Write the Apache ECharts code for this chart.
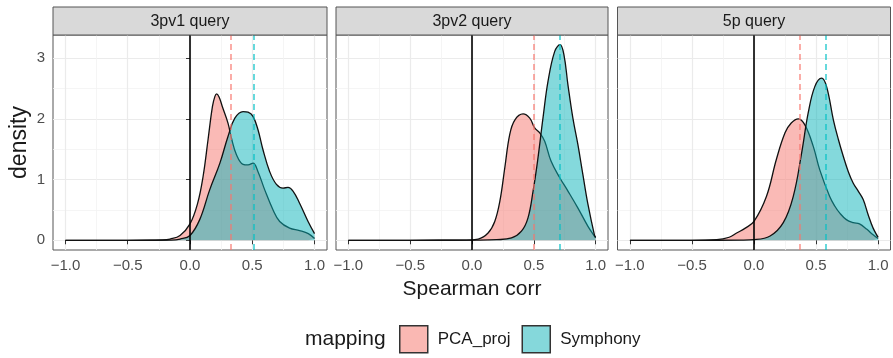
<!DOCTYPE html>
<html><head><meta charset="utf-8">
<script src="https://cdn.jsdelivr.net/npm/echarts@6/dist/echarts.min.js"></script>
<style>html,body{margin:0;padding:0;background:#fff}#c{width:893px;height:358px}</style>
</head><body><div id="c"></div>
<script>
const panels = ['3pv1 query', '3pv2 query', '5p query'];
const mappings = ['PCA_proj', 'Symphony'];
const xTicks = [-1, -0.5, 0, 0.5, 1];
const xTickLabels = ['−1.0', '−0.5', '0.0', '0.5', '1.0'];
const xMinor = [-0.75, -0.25, 0.25, 0.75];
const yTicks = [0, 1, 2, 3];
const yTickLabels = ['0', '1', '2', '3'];
const yMinor = [0.5, 1.5, 2.5];

// density curves [Spearman corr, density]
const pca_3pv1 = [[-1,0],[-0.5,0],[-0.22,0.005],[-0.16,0.02],[-0.08,0.08],[0,0.27],[0.06,0.6],[0.105,1.05],[0.145,1.66],[0.18,2.2],[0.2,2.37],[0.215,2.41],[0.235,2.35],[0.26,2.2],[0.305,1.93],[0.333,1.68],[0.373,1.41],[0.426,1.25],[0.466,1.24],[0.506,1.27],[0.546,1.13],[0.60,0.83],[0.667,0.50],[0.72,0.31],[0.80,0.20],[0.88,0.16],[0.95,0.11],[1.0,0.03]];
const sym_3pv1 = [[-1,0],[-0.5,0],[-0.15,0.003],[-0.08,0.02],[0,0.08],[0.078,0.34],[0.158,0.83],[0.24,1.27],[0.305,1.71],[0.36,2.01],[0.426,2.12],[0.466,2.11],[0.506,2.04],[0.546,1.82],[0.586,1.49],[0.64,1.13],[0.694,0.92],[0.747,0.86],[0.787,0.87],[0.827,0.81],[0.88,0.61],[0.948,0.31],[1.0,0.11]];
const pca_3pv2 = [[-1,0],[-0.5,0],[-0.05,0.002],[0.05,0.02],[0.13,0.12],[0.184,0.31],[0.225,0.64],[0.265,1.19],[0.305,1.74],[0.346,1.98],[0.413,2.08],[0.467,2.01],[0.507,1.85],[0.548,1.77],[0.588,1.63],[0.64,1.30],[0.71,1.03],[0.776,0.81],[0.857,0.53],[0.938,0.23],[0.99,0.07],[1.0,0.04]];
const sym_3pv2 = [[-1,0],[-0.5,0],[0.05,0.002],[0.2,0.01],[0.32,0.04],[0.40,0.15],[0.453,0.37],[0.494,0.81],[0.53,1.30],[0.574,2.01],[0.615,2.62],[0.669,3.11],[0.712,3.22],[0.744,3.05],[0.776,2.56],[0.816,2.01],[0.857,1.57],[0.897,1.08],[0.938,0.59],[0.99,0.09],[1.0,0.05]];
const pca_5p = [[-1,0],[-0.5,0],[-0.3,0.01],[-0.2,0.05],[-0.14,0.12],[-0.07,0.2],[0,0.31],[0.10,0.72],[0.18,1.33],[0.25,1.77],[0.30,1.93],[0.357,2.00],[0.41,1.90],[0.477,1.55],[0.53,1.16],[0.61,0.72],[0.652,0.56],[0.69,0.45],[0.744,0.34],[0.80,0.29],[0.85,0.27],[0.91,0.18],[0.96,0.09],[1.0,0.03]];
const sym_5p = [[-1,0],[-0.5,0],[-0.1,0.003],[0.0,0.01],[0.13,0.07],[0.236,0.29],[0.316,0.72],[0.384,1.44],[0.437,2.10],[0.49,2.53],[0.545,2.67],[0.585,2.53],[0.64,1.98],[0.68,1.66],[0.72,1.38],[0.76,1.13],[0.80,0.94],[0.84,0.81],[0.88,0.67],[0.92,0.42],[0.96,0.2],[1.0,0.05]];

const meanPCA = [0.333, 0.499, 0.373];
const meanSym = [0.514, 0.715, 0.58];

const pcaCurves = [pca_3pv1, pca_3pv2, pca_5p];
const symCurves = [sym_3pv1, sym_3pv2, sym_5p];

const FONT = '"Liberation Sans", Arial, Helvetica, sans-serif';
const COL = {PCA_proj: '#F8766D', Symphony: '#00BFC4'};
const FILL = {PCA_proj: 'rgba(246,118,109,0.5)', Symphony: 'rgba(10,180,186,0.5)'};
const KEY = {PCA_proj: '#FAB8B3', Symphony: '#85D8DB'};

const boxes = [{left: 53, width: 274}, {left: 336, width: 272}, {left: 617.5, width: 273}];
const TOP = 35, H = 215;

const grid = boxes.map(b => ({left: b.left, top: TOP, width: b.width, height: H, show: true,
  borderColor: '#555', borderWidth: 1, backgroundColor: '#fff'}));

const xAxis = [], yAxis = [], series = [], graphic = [];
boxes.forEach((b, g) => {
  xAxis.push({type: 'value', gridIndex: g, min: -1.1, max: 1.1,
    axisLine: {show: false},
    axisTick: {show: true, length: 4, lineStyle: {color: '#333'}, customValues: xTicks},
    axisLabel: {show: true, customValues: xTicks, formatter: v => { const i = xTicks.indexOf(v); return i >= 0 ? xTickLabels[i] : ''; },
      color: '#4d4d4d', fontSize: 15, margin: 8, fontFamily: FONT},
    splitLine: {show: true, lineStyle: {color: '#ebebeb', width: 1.2}}});
  xAxis.push({type: 'value', gridIndex: g, min: -1.1, max: 1.1,
    axisLine: {show: false}, axisTick: {show: false, customValues: xMinor},
    axisLabel: {show: false, customValues: xMinor},
    splitLine: {show: true, lineStyle: {color: '#f3f3f3', width: 0.8}}});
  yAxis.push({type: 'value', gridIndex: g, min: -0.16, max: 3.38,
    axisLine: {show: false},
    axisTick: {show: g === 0, length: 4, lineStyle: {color: '#333'}, customValues: yTicks},
    axisLabel: {show: g === 0, customValues: yTicks, formatter: v => { const i = yTicks.indexOf(v); return i >= 0 ? yTickLabels[i] : ''; },
      color: '#4d4d4d', fontSize: 15, margin: 8, fontFamily: FONT},
    splitLine: {show: true, lineStyle: {color: '#ebebeb', width: 1.2}}});
  yAxis.push({type: 'value', gridIndex: g, min: -0.16, max: 3.38,
    axisLine: {show: false}, axisTick: {show: false, customValues: yMinor},
    axisLabel: {show: false, customValues: yMinor},
    splitLine: {show: true, lineStyle: {color: '#f3f3f3', width: 0.8}}});

  const curves = {PCA_proj: pcaCurves[g], Symphony: symCurves[g]};
  const means = {PCA_proj: meanPCA[g], Symphony: meanSym[g]};
  mappings.forEach((m, k) => {
    const mlData = [{xAxis: means[m]}];
    if (k === 1) mlData.push({xAxis: 0, lineStyle: {color: '#000', type: 'solid', width: 1.6, opacity: 1}});
    series.push({name: m, type: 'line', xAxisIndex: 2 * g, yAxisIndex: 2 * g,
      data: curves[m], smooth: 0.4, showSymbol: false, symbol: 'none',
      itemStyle: {color: KEY[m]},
      lineStyle: {color: '#111', width: 1.3},
      areaStyle: {color: FILL[m], opacity: 1},
      z: 2 + k,
      markLine: {silent: true, symbol: 'none', label: {show: false},
        lineStyle: {color: COL[m], type: [6, 4], width: 1.6, opacity: 0.75},
        data: mlData}});
  });

  graphic.push({type: 'rect', shape: {x: b.left, y: 7, width: b.width, height: 28},
    style: {fill: '#d9d9d9', stroke: '#555', lineWidth: 1}, z: 10});
  graphic.push({type: 'text', x: b.left + b.width / 2, y: 21.5,
    style: {text: panels[g], fill: '#1a1a1a', font: '16px ' + FONT, textAlign: 'center', textVerticalAlign: 'middle'}, z: 11});
});

graphic.push({type: 'text', x: 20, y: 142.5, rotation: Math.PI / 2,
  style: {text: 'density', fill: '#1a1a1a', font: '23px ' + FONT, textAlign: 'center', textVerticalAlign: 'middle'}});
graphic.push({type: 'text', x: 472, y: 289,
  style: {text: 'Spearman corr', fill: '#1a1a1a', font: '21px ' + FONT, textAlign: 'center', textVerticalAlign: 'middle'}});
graphic.push({type: 'text', x: 305, y: 339,
  style: {text: 'mapping', fill: '#1a1a1a', font: '21px ' + FONT, textAlign: 'left', textVerticalAlign: 'middle'}});

const chart = echarts.init(document.getElementById('c'), null, {renderer: 'canvas'});
chart.setOption({
  animation: false,
  backgroundColor: '#fff',
  grid, xAxis, yAxis, series, graphic,
  legend: {left: 399, top: 325, padding: 0, orient: 'horizontal', icon: 'rect', itemWidth: 28, itemHeight: 27, itemGap: 11,
    textStyle: {fontSize: 17, color: '#1a1a1a', fontFamily: FONT, padding: [0, 0, 0, 5]},
    selectedMode: false,
    data: mappings.map(m => ({name: m, itemStyle: {color: KEY[m], borderColor: '#333', borderWidth: 1.5, opacity: 1}}))}
});
</script></body></html>
